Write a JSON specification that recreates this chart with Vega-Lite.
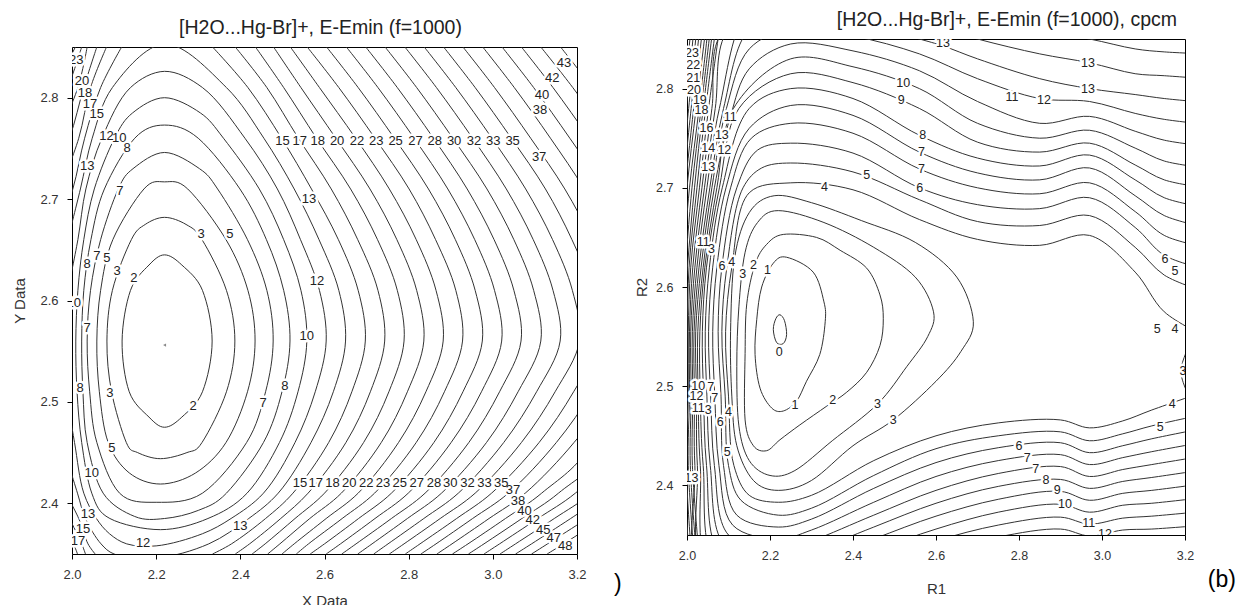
{
"$schema":"https://vega.github.io/schema/vega-lite/v6.json",
"padding":{"left":12,"top":9,"right":0,"bottom":0},
"background":"white",
"config":{"view":{"stroke":"#000","strokeWidth":1},"axis":{"grid":false,"domain":false,"tickColor":"#000","tickSize":5,"labelFont":"Liberation Sans","labelFontSize":13,"labelColor":"#333","titleFont":"Liberation Sans","titleFontSize":15,"titleFontWeight":"normal","titleColor":"#333","labelPadding":9,"labelFlush":false}},
"datasets":{
"lc":[
{"c":"C1","x":2.333,"y":2.56},{"c":"C1","x":2.31,"y":2.61},{"c":"C1","x":2.261,"y":2.635},{"c":"C1","x":2.22,"y":2.645},{"c":"C1","x":2.183,"y":2.635},{"c":"C1","x":2.139,"y":2.61},{"c":"C1","x":2.119,"y":2.56},{"c":"C1","x":2.136,"y":2.51},{"c":"C1","x":2.183,"y":2.485},{"c":"C1","x":2.22,"y":2.475},{"c":"C1","x":2.261,"y":2.485},{"c":"C1","x":2.31,"y":2.51},
{"c":"C2","x":2.387,"y":2.56},{"c":"C2","x":2.367,"y":2.61},{"c":"C2","x":2.309,"y":2.66},{"c":"C2","x":2.271,"y":2.675},{"c":"C2","x":2.22,"y":2.682},{"c":"C2","x":2.174,"y":2.675},{"c":"C2","x":2.141,"y":2.66},{"c":"C2","x":2.096,"y":2.61},{"c":"C2","x":2.083,"y":2.56},{"c":"C2","x":2.094,"y":2.51},{"c":"C2","x":2.129,"y":2.46},{"c":"C2","x":2.156,"y":2.45},{"c":"C2","x":2.21,"y":2.444},{"c":"C2","x":2.273,"y":2.45},{"c":"C2","x":2.309,"y":2.46},{"c":"C2","x":2.367,"y":2.51},
{"c":"C3","x":2.435,"y":2.56},{"c":"C3","x":2.418,"y":2.61},{"c":"C3","x":2.366,"y":2.66},{"c":"C3","x":2.275,"y":2.71},{"c":"C3","x":2.22,"y":2.717},{"c":"C3","x":2.171,"y":2.71},{"c":"C3","x":2.097,"y":2.66},{"c":"C3","x":2.068,"y":2.61},{"c":"C3","x":2.059,"y":2.56},{"c":"C3","x":2.065,"y":2.51},{"c":"C3","x":2.086,"y":2.46},{"c":"C3","x":2.136,"y":2.43},{"c":"C3","x":2.21,"y":2.419},{"c":"C3","x":2.294,"y":2.43},{"c":"C3","x":2.366,"y":2.46},{"c":"C3","x":2.417,"y":2.51},
{"c":"C4","x":2.478,"y":2.56},{"c":"C4","x":2.463,"y":2.61},{"c":"C4","x":2.417,"y":2.66},{"c":"C4","x":2.346,"y":2.71},{"c":"C4","x":2.303,"y":2.73},{"c":"C4","x":2.22,"y":2.746},{"c":"C4","x":2.145,"y":2.73},{"c":"C4","x":2.11,"y":2.71},{"c":"C4","x":2.068,"y":2.66},{"c":"C4","x":2.044,"y":2.61},{"c":"C4","x":2.036,"y":2.56},{"c":"C4","x":2.042,"y":2.51},{"c":"C4","x":2.059,"y":2.46},{"c":"C4","x":2.113,"y":2.41},{"c":"C4","x":2.2,"y":2.401},{"c":"C4","x":2.31,"y":2.41},{"c":"C4","x":2.415,"y":2.46},{"c":"C4","x":2.46,"y":2.51},
{"c":"C5","x":2.518,"y":2.56},{"c":"C5","x":2.503,"y":2.61},{"c":"C5","x":2.462,"y":2.66},{"c":"C5","x":2.399,"y":2.71},{"c":"C5","x":2.3,"y":2.76},{"c":"C5","x":2.22,"y":2.773},{"c":"C5","x":2.149,"y":2.76},{"c":"C5","x":2.077,"y":2.71},{"c":"C5","x":2.045,"y":2.66},{"c":"C5","x":2.028,"y":2.61},{"c":"C5","x":2.023,"y":2.56},{"c":"C5","x":2.026,"y":2.51},{"c":"C5","x":2.036,"y":2.46},{"c":"C5","x":2.074,"y":2.41},{"c":"C5","x":2.149,"y":2.387},{"c":"C5","x":2.22,"y":2.385},{"c":"C5","x":2.3,"y":2.393},{"c":"C5","x":2.367,"y":2.41},{"c":"C5","x":2.455,"y":2.46},{"c":"C5","x":2.499,"y":2.51},
{"c":"C6","x":2.558,"y":2.56},{"c":"C6","x":2.544,"y":2.61},{"c":"C6","x":2.503,"y":2.66},{"c":"C6","x":2.445,"y":2.71},{"c":"C6","x":2.36,"y":2.76},{"c":"C6","x":2.305,"y":2.785},{"c":"C6","x":2.22,"y":2.8},{"c":"C6","x":2.144,"y":2.785},{"c":"C6","x":2.101,"y":2.76},{"c":"C6","x":2.053,"y":2.71},{"c":"C6","x":2.028,"y":2.66},{"c":"C6","x":2.014,"y":2.61},{"c":"C6","x":2.009,"y":2.56},{"c":"C6","x":2.012,"y":2.51},{"c":"C6","x":2.023,"y":2.46},{"c":"C6","x":2.047,"y":2.41},{"c":"C6","x":2.09,"y":2.385},{"c":"C6","x":2.21,"y":2.374},{"c":"C6","x":2.323,"y":2.385},{"c":"C6","x":2.416,"y":2.41},{"c":"C6","x":2.493,"y":2.46},{"c":"C6","x":2.537,"y":2.51}
],
"lo":[
{"c":"O7","x":1.986,"y":2.51},{"c":"O7","x":2.006,"y":2.46},{"c":"O7","x":2.028,"y":2.41},{"c":"O7","x":2.058,"y":2.385},{"c":"O7","x":2.089,"y":2.37},{"c":"O7","x":2.13,"y":2.36},{"c":"O7","x":2.2,"y":2.358},{"c":"O7","x":2.31,"y":2.37},{"c":"O7","x":2.378,"y":2.385},{"c":"O7","x":2.455,"y":2.41},{"c":"O7","x":2.53,"y":2.46},{"c":"O7","x":2.578,"y":2.51},{"c":"O7","x":2.604,"y":2.56},{"c":"O7","x":2.588,"y":2.61},{"c":"O7","x":2.543,"y":2.66},{"c":"O7","x":2.488,"y":2.71},{"c":"O7","x":2.411,"y":2.76},{"c":"O7","x":2.31,"y":2.81},{"c":"O7","x":2.22,"y":2.826},{"c":"O7","x":2.139,"y":2.81},{"c":"O7","x":2.071,"y":2.76},{"c":"O7","x":2.033,"y":2.71},{"c":"O7","x":2.014,"y":2.66},{"c":"O7","x":1.99,"y":2.61},
{"c":"O8","x":1.976,"y":2.46},{"c":"O8","x":2.013,"y":2.41},{"c":"O8","x":2.032,"y":2.385},{"c":"O8","x":2.069,"y":2.36},{"c":"O8","x":2.1,"y":2.35},{"c":"O8","x":2.2,"y":2.346},{"c":"O8","x":2.325,"y":2.36},{"c":"O8","x":2.42,"y":2.385},{"c":"O8","x":2.49,"y":2.41},{"c":"O8","x":2.568,"y":2.46},{"c":"O8","x":2.621,"y":2.51},{"c":"O8","x":2.65,"y":2.56},{"c":"O8","x":2.634,"y":2.61},{"c":"O8","x":2.587,"y":2.66},{"c":"O8","x":2.528,"y":2.71},{"c":"O8","x":2.456,"y":2.76},{"c":"O8","x":2.367,"y":2.81},{"c":"O8","x":2.22,"y":2.853},{"c":"O8","x":2.096,"y":2.81},{"c":"O8","x":2.048,"y":2.76},{"c":"O8","x":2.02,"y":2.71},{"c":"O8","x":1.99,"y":2.66},
{"c":"R15","x":2.334,"y":2.35},{"c":"R15","x":2.379,"y":2.36},{"c":"R15","x":2.46,"y":2.385},{"c":"R15","x":2.525,"y":2.41},{"c":"R15","x":2.61,"y":2.46},{"c":"R15","x":2.665,"y":2.51},{"c":"R15","x":2.697,"y":2.56},{"c":"R15","x":2.68,"y":2.61},{"c":"R15","x":2.633,"y":2.66},{"c":"R15","x":2.569,"y":2.71},{"c":"R15","x":2.498,"y":2.76},{"c":"R15","x":2.418,"y":2.81},{"c":"R15","x":2.334,"y":2.85},
{"c":"R16","x":2.388,"y":2.35},{"c":"R16","x":2.422,"y":2.36},{"c":"R16","x":2.496,"y":2.385},{"c":"R16","x":2.561,"y":2.41},{"c":"R16","x":2.651,"y":2.46},{"c":"R16","x":2.709,"y":2.51},{"c":"R16","x":2.743,"y":2.56},{"c":"R16","x":2.727,"y":2.61},{"c":"R16","x":2.679,"y":2.66},{"c":"R16","x":2.616,"y":2.71},{"c":"R16","x":2.538,"y":2.76},{"c":"R16","x":2.463,"y":2.81},{"c":"R16","x":2.388,"y":2.85},
{"c":"R18","x":2.428,"y":2.35},{"c":"R18","x":2.459,"y":2.36},{"c":"R18","x":2.53,"y":2.385},{"c":"R18","x":2.6,"y":2.41},{"c":"R18","x":2.693,"y":2.46},{"c":"R18","x":2.753,"y":2.51},{"c":"R18","x":2.789,"y":2.56},{"c":"R18","x":2.773,"y":2.61},{"c":"R18","x":2.726,"y":2.66},{"c":"R18","x":2.662,"y":2.71},{"c":"R18","x":2.581,"y":2.76},{"c":"R18","x":2.503,"y":2.81},{"c":"R18","x":2.436,"y":2.85},
{"c":"R20","x":2.465,"y":2.35},{"c":"R20","x":2.494,"y":2.36},{"c":"R20","x":2.565,"y":2.385},{"c":"R20","x":2.64,"y":2.41},{"c":"R20","x":2.735,"y":2.46},{"c":"R20","x":2.797,"y":2.51},{"c":"R20","x":2.836,"y":2.56},{"c":"R20","x":2.819,"y":2.61},{"c":"R20","x":2.772,"y":2.66},{"c":"R20","x":2.708,"y":2.71},{"c":"R20","x":2.627,"y":2.76},{"c":"R20","x":2.544,"y":2.81},{"c":"R20","x":2.479,"y":2.85},
{"c":"R21","x":2.499,"y":2.35},{"c":"R21","x":2.528,"y":2.36},{"c":"R21","x":2.604,"y":2.385},{"c":"R21","x":2.68,"y":2.41},{"c":"R21","x":2.776,"y":2.46},{"c":"R21","x":2.841,"y":2.51},{"c":"R21","x":2.882,"y":2.56},{"c":"R21","x":2.865,"y":2.61},{"c":"R21","x":2.818,"y":2.66},{"c":"R21","x":2.754,"y":2.71},{"c":"R21","x":2.674,"y":2.76},{"c":"R21","x":2.588,"y":2.81},{"c":"R21","x":2.519,"y":2.85},
{"c":"R23","x":2.533,"y":2.35},{"c":"R23","x":2.562,"y":2.36},{"c":"R23","x":2.642,"y":2.385},{"c":"R23","x":2.719,"y":2.41},{"c":"R23","x":2.818,"y":2.46},{"c":"R23","x":2.885,"y":2.51},{"c":"R23","x":2.928,"y":2.56},{"c":"R23","x":2.912,"y":2.61},{"c":"R23","x":2.864,"y":2.66},{"c":"R23","x":2.801,"y":2.71},{"c":"R23","x":2.72,"y":2.76},{"c":"R23","x":2.634,"y":2.81},{"c":"R23","x":2.559,"y":2.85},
{"c":"R25","x":2.566,"y":2.35},{"c":"R25","x":2.6,"y":2.36},{"c":"R25","x":2.681,"y":2.385},{"c":"R25","x":2.759,"y":2.41},{"c":"R25","x":2.86,"y":2.46},{"c":"R25","x":2.929,"y":2.51},{"c":"R25","x":2.975,"y":2.56},{"c":"R25","x":2.958,"y":2.61},{"c":"R25","x":2.911,"y":2.66},{"c":"R25","x":2.847,"y":2.71},{"c":"R25","x":2.766,"y":2.76},{"c":"R25","x":2.68,"y":2.81},{"c":"R25","x":2.605,"y":2.85},
{"c":"R26","x":2.604,"y":2.35},{"c":"R26","x":2.638,"y":2.36},{"c":"R26","x":2.72,"y":2.385},{"c":"R26","x":2.799,"y":2.41},{"c":"R26","x":2.901,"y":2.46},{"c":"R26","x":2.973,"y":2.51},{"c":"R26","x":3.021,"y":2.56},{"c":"R26","x":3.004,"y":2.61},{"c":"R26","x":2.957,"y":2.66},{"c":"R26","x":2.893,"y":2.71},{"c":"R26","x":2.813,"y":2.76},{"c":"R26","x":2.727,"y":2.81},{"c":"R26","x":2.652,"y":2.85},
{"c":"R28","x":2.641,"y":2.35},{"c":"R28","x":2.675,"y":2.36},{"c":"R28","x":2.759,"y":2.385},{"c":"R28","x":2.839,"y":2.41},{"c":"R28","x":2.943,"y":2.46},{"c":"R28","x":3.016,"y":2.51},{"c":"R28","x":3.067,"y":2.56},{"c":"R28","x":3.05,"y":2.61},{"c":"R28","x":3.003,"y":2.66},{"c":"R28","x":2.939,"y":2.71},{"c":"R28","x":2.859,"y":2.76},{"c":"R28","x":2.773,"y":2.81},{"c":"R28","x":2.698,"y":2.85},
{"c":"R30","x":2.679,"y":2.35},{"c":"R30","x":2.713,"y":2.36},{"c":"R30","x":2.797,"y":2.385},{"c":"R30","x":2.878,"y":2.41},{"c":"R30","x":2.985,"y":2.46},{"c":"R30","x":3.06,"y":2.51},{"c":"R30","x":3.114,"y":2.56},{"c":"R30","x":3.097,"y":2.61},{"c":"R30","x":3.05,"y":2.66},{"c":"R30","x":2.986,"y":2.71},{"c":"R30","x":2.905,"y":2.76},{"c":"R30","x":2.819,"y":2.81},{"c":"R30","x":2.744,"y":2.85},
{"c":"R31","x":2.717,"y":2.35},{"c":"R31","x":2.751,"y":2.36},{"c":"R31","x":2.836,"y":2.385},{"c":"R31","x":2.918,"y":2.41},{"c":"R31","x":3.026,"y":2.46},{"c":"R31","x":3.104,"y":2.51},{"c":"R31","x":3.16,"y":2.56},{"c":"R31","x":3.143,"y":2.61},{"c":"R31","x":3.096,"y":2.66},{"c":"R31","x":3.032,"y":2.71},{"c":"R31","x":2.952,"y":2.76},{"c":"R31","x":2.866,"y":2.81},{"c":"R31","x":2.791,"y":2.85},
{"c":"R33","x":2.754,"y":2.35},{"c":"R33","x":2.789,"y":2.36},{"c":"R33","x":2.875,"y":2.385},{"c":"R33","x":2.958,"y":2.41},{"c":"R33","x":3.068,"y":2.46},{"c":"R33","x":3.148,"y":2.51},{"c":"R33","x":3.206,"y":2.56},{"c":"R33","x":3.189,"y":2.61},{"c":"R33","x":3.142,"y":2.66},{"c":"R33","x":3.078,"y":2.71},{"c":"R33","x":2.998,"y":2.76},{"c":"R33","x":2.912,"y":2.81},{"c":"R33","x":2.837,"y":2.85},
{"c":"R35","x":2.792,"y":2.35},{"c":"R35","x":2.827,"y":2.36},{"c":"R35","x":2.914,"y":2.385},{"c":"R35","x":2.997,"y":2.41},{"c":"R35","x":3.11,"y":2.46},{"c":"R35","x":3.192,"y":2.51},{"c":"R35","x":3.252,"y":2.56},{"c":"R35","x":3.236,"y":2.61},{"c":"R35","x":3.188,"y":2.66},{"c":"R35","x":3.125,"y":2.71},{"c":"R35","x":3.044,"y":2.76},{"c":"R35","x":2.958,"y":2.81},{"c":"R35","x":2.883,"y":2.85},
{"c":"R36","x":2.829,"y":2.35},{"c":"R36","x":2.865,"y":2.36},{"c":"R36","x":2.952,"y":2.385},{"c":"R36","x":3.037,"y":2.41},{"c":"R36","x":3.151,"y":2.46},{"c":"R36","x":3.236,"y":2.51},{"c":"R36","x":3.299,"y":2.56},{"c":"R36","x":3.282,"y":2.61},{"c":"R36","x":3.235,"y":2.66},{"c":"R36","x":3.171,"y":2.71},{"c":"R36","x":3.09,"y":2.76},{"c":"R36","x":3.004,"y":2.81},{"c":"R36","x":2.929,"y":2.85},
{"c":"R38","x":2.867,"y":2.35},{"c":"R38","x":2.903,"y":2.36},{"c":"R38","x":2.991,"y":2.385},{"c":"R38","x":3.077,"y":2.41},{"c":"R38","x":3.193,"y":2.46},{"c":"R38","x":3.279,"y":2.51},{"c":"R38","x":3.328,"y":2.61},{"c":"R38","x":3.281,"y":2.66},{"c":"R38","x":3.217,"y":2.71},{"c":"R38","x":3.137,"y":2.76},{"c":"R38","x":3.051,"y":2.81},{"c":"R38","x":2.976,"y":2.85},
{"c":"R40","x":2.904,"y":2.35},{"c":"R40","x":2.941,"y":2.36},{"c":"R40","x":3.03,"y":2.385},{"c":"R40","x":3.116,"y":2.41},{"c":"R40","x":3.235,"y":2.46},{"c":"R40","x":3.327,"y":2.66},{"c":"R40","x":3.264,"y":2.71},{"c":"R40","x":3.183,"y":2.76},{"c":"R40","x":3.097,"y":2.81},{"c":"R40","x":3.022,"y":2.85},
{"c":"R41","x":2.942,"y":2.35},{"c":"R41","x":2.979,"y":2.36},{"c":"R41","x":3.069,"y":2.385},{"c":"R41","x":3.156,"y":2.41},{"c":"R41","x":3.276,"y":2.46},{"c":"R41","x":3.31,"y":2.71},{"c":"R41","x":3.229,"y":2.76},{"c":"R41","x":3.143,"y":2.81},{"c":"R41","x":3.068,"y":2.85},
{"c":"R43","x":2.979,"y":2.35},{"c":"R43","x":3.016,"y":2.36},{"c":"R43","x":3.107,"y":2.385},{"c":"R43","x":3.196,"y":2.41},{"c":"R43","x":3.318,"y":2.46},{"c":"R43","x":3.356,"y":2.71},{"c":"R43","x":3.276,"y":2.76},{"c":"R43","x":3.19,"y":2.81},{"c":"R43","x":3.114,"y":2.85},
{"c":"R45","x":3.017,"y":2.35},{"c":"R45","x":3.054,"y":2.36},{"c":"R45","x":3.146,"y":2.385},{"c":"R45","x":3.235,"y":2.41},{"c":"R45","x":3.36,"y":2.46},{"c":"R45","x":3.322,"y":2.76},{"c":"R45","x":3.236,"y":2.81},{"c":"R45","x":3.161,"y":2.85},
{"c":"R46","x":3.054,"y":2.35},{"c":"R46","x":3.092,"y":2.36},{"c":"R46","x":3.185,"y":2.385},{"c":"R46","x":3.275,"y":2.41},
{"c":"R48","x":3.092,"y":2.35},{"c":"R48","x":3.13,"y":2.36},{"c":"R48","x":3.224,"y":2.385},{"c":"R48","x":3.315,"y":2.41},
{"c":"R50","x":3.129,"y":2.35},{"c":"R50","x":3.168,"y":2.36},{"c":"R50","x":3.262,"y":2.385},
{"c":"TL15","x":1.96,"y":2.66},{"c":"TL15","x":2.002,"y":2.71},{"c":"TL15","x":2.03,"y":2.76},{"c":"TL15","x":2.068,"y":2.81},{"c":"TL15","x":2.118,"y":2.85},
{"c":"TL16","x":1.972,"y":2.71},{"c":"TL16","x":2.016,"y":2.76},{"c":"TL16","x":2.044,"y":2.81},{"c":"TL16","x":2.082,"y":2.85},
{"c":"TL18","x":1.942,"y":2.71},{"c":"TL18","x":1.994,"y":2.76},{"c":"TL18","x":2.028,"y":2.81},{"c":"TL18","x":2.059,"y":2.85},
{"c":"TL20","x":1.964,"y":2.76},{"c":"TL20","x":2.014,"y":2.81},{"c":"TL20","x":2.036,"y":2.85},
{"c":"TL21","x":1.934,"y":2.76},{"c":"TL21","x":1.99,"y":2.81},{"c":"TL21","x":2.023,"y":2.85},
{"c":"TL23","x":1.96,"y":2.81},{"c":"TL23","x":2.008,"y":2.85},
{"c":"BL15","x":1.985,"y":2.41},{"c":"BL15","x":2.016,"y":2.385},{"c":"BL15","x":2.038,"y":2.36},{"c":"BL15","x":2.055,"y":2.35},
{"c":"BL16","x":1.975,"y":2.4},{"c":"BL16","x":1.994,"y":2.385},{"c":"BL16","x":2.023,"y":2.36},{"c":"BL16","x":2.032,"y":2.35},
{"c":"BL18","x":1.96,"y":2.385},{"c":"BL18","x":2.003,"y":2.36},{"c":"BL18","x":2.013,"y":2.35}
],
"ll":[
{"t":"23","x":2.01,"y":2.837},{"t":"20","x":2.024,"y":2.816},{"t":"18","x":2.031,"y":2.805},{"t":"17","x":2.043,"y":2.794},{"t":"15","x":2.059,"y":2.784},
{"t":"13","x":2.036,"y":2.733},{"t":"12","x":2.082,"y":2.762},{"t":"10","x":2.112,"y":2.76},{"t":"8","x":2.131,"y":2.75},{"t":"7","x":2.114,"y":2.708},
{"t":"8","x":2.036,"y":2.636},{"t":"7","x":2.059,"y":2.644},{"t":"5","x":2.083,"y":2.642},{"t":"3","x":2.107,"y":2.629},{"t":"2","x":2.147,"y":2.622},
{"t":"10","x":2.004,"y":2.598},{"t":"7","x":2.036,"y":2.573},{"t":"8","x":2.019,"y":2.514},{"t":"3","x":2.09,"y":2.509},{"t":"5","x":2.095,"y":2.455},{"t":"10","x":2.047,"y":2.43},{"t":"13","x":2.038,"y":2.389},{"t":"15","x":2.026,"y":2.375},{"t":"17","x":2.014,"y":2.363},{"t":"12","x":2.169,"y":2.361},{"t":"13","x":2.4,"y":2.378},
{"t":"2","x":2.288,"y":2.496},{"t":"3","x":2.307,"y":2.666},{"t":"5","x":2.375,"y":2.666},{"t":"7","x":2.454,"y":2.499},{"t":"8","x":2.506,"y":2.516},{"t":"10","x":2.558,"y":2.565},{"t":"12","x":2.582,"y":2.619},{"t":"13","x":2.563,"y":2.7},
{"t":"15","x":2.5,"y":2.757},{"t":"17","x":2.541,"y":2.757},{"t":"18","x":2.584,"y":2.757},{"t":"20","x":2.63,"y":2.757},{"t":"22","x":2.677,"y":2.757},{"t":"23","x":2.723,"y":2.757},{"t":"25","x":2.769,"y":2.757},{"t":"27","x":2.816,"y":2.757},{"t":"28","x":2.862,"y":2.757},{"t":"30","x":2.908,"y":2.757},{"t":"32","x":2.955,"y":2.757},{"t":"33","x":3.001,"y":2.757},{"t":"35","x":3.047,"y":2.757},
{"t":"15","x":2.542,"y":2.42},{"t":"17","x":2.579,"y":2.42},{"t":"18","x":2.619,"y":2.42},{"t":"20","x":2.659,"y":2.42},{"t":"22","x":2.699,"y":2.42},{"t":"23","x":2.739,"y":2.42},{"t":"25","x":2.779,"y":2.42},{"t":"27","x":2.819,"y":2.42},{"t":"28","x":2.86,"y":2.42},{"t":"30","x":2.899,"y":2.42},{"t":"32","x":2.94,"y":2.42},{"t":"33","x":2.98,"y":2.42},{"t":"35","x":3.02,"y":2.42},
{"t":"37","x":3.048,"y":2.413},{"t":"38","x":3.06,"y":2.402},{"t":"40","x":3.075,"y":2.392},{"t":"42","x":3.095,"y":2.384},{"t":"45","x":3.12,"y":2.374},{"t":"47","x":3.145,"y":2.366},{"t":"48","x":3.172,"y":2.358},
{"t":"43","x":3.169,"y":2.834},{"t":"42","x":3.141,"y":2.819},{"t":"40","x":3.117,"y":2.803},{"t":"38","x":3.112,"y":2.788},{"t":"37","x":3.11,"y":2.742}
],
"rc":[
{"c":"Q0","x":2.208,"y":2.557},{"c":"Q0","x":2.214,"y":2.568},{"c":"Q0","x":2.224,"y":2.572},{"c":"Q0","x":2.235,"y":2.566},{"c":"Q0","x":2.24,"y":2.552},{"c":"Q0","x":2.232,"y":2.543},{"c":"Q0","x":2.216,"y":2.544},
{"c":"Q1","x":2.333,"y":2.565},{"c":"Q1","x":2.33,"y":2.585},{"c":"Q1","x":2.304,"y":2.615},{"c":"Q1","x":2.24,"y":2.63},{"c":"Q1","x":2.208,"y":2.624},{"c":"Q1","x":2.18,"y":2.6},{"c":"Q1","x":2.168,"y":2.567},{"c":"Q1","x":2.164,"y":2.532},{"c":"Q1","x":2.176,"y":2.498},{"c":"Q1","x":2.204,"y":2.478},{"c":"Q1","x":2.232,"y":2.475},{"c":"Q1","x":2.264,"y":2.485},{"c":"Q1","x":2.288,"y":2.505},{"c":"Q1","x":2.32,"y":2.532},
{"c":"Q2","x":2.473,"y":2.568},{"c":"Q2","x":2.465,"y":2.592},{"c":"Q2","x":2.433,"y":2.619},{"c":"Q2","x":2.369,"y":2.637},{"c":"Q2","x":2.312,"y":2.65},{"c":"Q2","x":2.232,"y":2.653},{"c":"Q2","x":2.192,"y":2.643},{"c":"Q2","x":2.164,"y":2.623},{"c":"Q2","x":2.144,"y":2.583},{"c":"Q2","x":2.14,"y":2.533},{"c":"Q2","x":2.14,"y":2.466},{"c":"Q2","x":2.16,"y":2.44},{"c":"Q2","x":2.192,"y":2.435},{"c":"Q2","x":2.224,"y":2.446},{"c":"Q2","x":2.272,"y":2.461},{"c":"Q2","x":2.337,"y":2.48},{"c":"Q2","x":2.385,"y":2.494},{"c":"Q2","x":2.433,"y":2.514},{"c":"Q2","x":2.465,"y":2.541},
{"c":"Q3","x":2.594,"y":2.575},{"c":"Q3","x":2.55,"y":2.61},{"c":"Q3","x":2.45,"y":2.64},{"c":"Q3","x":2.33,"y":2.665},{"c":"Q3","x":2.22,"y":2.677},{"c":"Q3","x":2.17,"y":2.665},{"c":"Q3","x":2.14,"y":2.635},{"c":"Q3","x":2.125,"y":2.58},{"c":"Q3","x":2.12,"y":2.52},{"c":"Q3","x":2.125,"y":2.46},{"c":"Q3","x":2.15,"y":2.425},{"c":"Q3","x":2.2,"y":2.41},{"c":"Q3","x":2.26,"y":2.415},{"c":"Q3","x":2.35,"y":2.445},{"c":"Q3","x":2.459,"y":2.482},{"c":"Q3","x":2.53,"y":2.52},{"c":"Q3","x":2.58,"y":2.55},
{"c":"Q4","x":2.69,"y":2.565},{"c":"Q4","x":2.65,"y":2.61},{"c":"Q4","x":2.55,"y":2.645},{"c":"Q4","x":2.42,"y":2.667},{"c":"Q4","x":2.3,"y":2.685},{"c":"Q4","x":2.21,"y":2.692},{"c":"Q4","x":2.15,"y":2.675},{"c":"Q4","x":2.115,"y":2.63},{"c":"Q4","x":2.105,"y":2.555},{"c":"Q4","x":2.108,"y":2.49},{"c":"Q4","x":2.12,"y":2.44},{"c":"Q4","x":2.16,"y":2.405},{"c":"Q4","x":2.22,"y":2.395},{"c":"Q4","x":2.3,"y":2.405},{"c":"Q4","x":2.4,"y":2.44},{"c":"Q4","x":2.497,"y":2.466},{"c":"Q4","x":2.6,"y":2.505},{"c":"Q4","x":2.66,"y":2.535}
],
"ro":[
{"c":"E3","x":3.215,"y":2.545},{"c":"E3","x":3.19,"y":2.515},{"c":"E3","x":3.215,"y":2.485},
{"c":"K5","x":3.25,"y":2.55},{"c":"K5","x":3.15,"y":2.575},{"c":"K5","x":3.08,"y":2.615},{"c":"K5","x":2.97,"y":2.652},{"c":"K5","x":2.85,"y":2.642},{"c":"K5","x":2.7,"y":2.648},{"c":"K5","x":2.56,"y":2.668},{"c":"K5","x":2.4,"y":2.698},{"c":"K5","x":2.25,"y":2.705},{"c":"K5","x":2.15,"y":2.695},{"c":"K5","x":2.108,"y":2.62},{"c":"K5","x":2.093,"y":2.555},{"c":"K5","x":2.1,"y":2.49},{"c":"K5","x":2.113,"y":2.42},{"c":"K5","x":2.15,"y":2.39},{"c":"K5","x":2.22,"y":2.383},{"c":"K5","x":2.3,"y":2.39},{"c":"K5","x":2.45,"y":2.425},{"c":"K5","x":2.6,"y":2.45},{"c":"K5","x":2.75,"y":2.463},{"c":"K5","x":2.9,"y":2.466},{"c":"K5","x":2.97,"y":2.458},{"c":"K5","x":3.05,"y":2.465},{"c":"K5","x":3.12,"y":2.476},{"c":"K5","x":3.25,"y":2.495},
{"c":"K6","x":3.25,"y":2.595},{"c":"K6","x":3.15,"y":2.612},{"c":"K6","x":3.08,"y":2.64},{"c":"K6","x":2.97,"y":2.672},{"c":"K6","x":2.85,"y":2.662},{"c":"K6","x":2.7,"y":2.666},{"c":"K6","x":2.56,"y":2.688},{"c":"K6","x":2.4,"y":2.716},{"c":"K6","x":2.25,"y":2.725},{"c":"K6","x":2.18,"y":2.72},{"c":"K6","x":2.135,"y":2.7},{"c":"K6","x":2.096,"y":2.62},{"c":"K6","x":2.084,"y":2.555},{"c":"K6","x":2.092,"y":2.49},{"c":"K6","x":2.1,"y":2.42},{"c":"K6","x":2.13,"y":2.385},{"c":"K6","x":2.22,"y":2.37},{"c":"K6","x":2.3,"y":2.377},{"c":"K6","x":2.45,"y":2.41},{"c":"K6","x":2.6,"y":2.437},{"c":"K6","x":2.75,"y":2.45},{"c":"K6","x":2.9,"y":2.454},{"c":"K6","x":2.97,"y":2.445},{"c":"K6","x":3.05,"y":2.452},{"c":"K6","x":3.12,"y":2.46},{"c":"K6","x":3.25,"y":2.472},
{"c":"K7","x":3.25,"y":2.618},{"c":"K7","x":3.15,"y":2.632},{"c":"K7","x":3.08,"y":2.66},{"c":"K7","x":2.97,"y":2.69},{"c":"K7","x":2.85,"y":2.679},{"c":"K7","x":2.7,"y":2.683},{"c":"K7","x":2.56,"y":2.7},{"c":"K7","x":2.4,"y":2.735},{"c":"K7","x":2.25,"y":2.745},{"c":"K7","x":2.17,"y":2.738},{"c":"K7","x":2.12,"y":2.7},{"c":"K7","x":2.084,"y":2.62},{"c":"K7","x":2.075,"y":2.555},{"c":"K7","x":2.082,"y":2.49},{"c":"K7","x":2.088,"y":2.42},{"c":"K7","x":2.12,"y":2.37},{"c":"K7","x":2.22,"y":2.358},{"c":"K7","x":2.3,"y":2.366},{"c":"K7","x":2.45,"y":2.397},{"c":"K7","x":2.6,"y":2.423},{"c":"K7","x":2.75,"y":2.438},{"c":"K7","x":2.9,"y":2.443},{"c":"K7","x":2.97,"y":2.433},{"c":"K7","x":3.05,"y":2.44},{"c":"K7","x":3.12,"y":2.447},{"c":"K7","x":3.25,"y":2.458},
{"c":"K8","x":3.25,"y":2.64},{"c":"K8","x":3.15,"y":2.652},{"c":"K8","x":3.08,"y":2.676},{"c":"K8","x":2.97,"y":2.705},{"c":"K8","x":2.85,"y":2.694},{"c":"K8","x":2.7,"y":2.7},{"c":"K8","x":2.56,"y":2.719},{"c":"K8","x":2.4,"y":2.755},{"c":"K8","x":2.25,"y":2.765},{"c":"K8","x":2.155,"y":2.75},{"c":"K8","x":2.105,"y":2.7},{"c":"K8","x":2.072,"y":2.62},{"c":"K8","x":2.062,"y":2.555},{"c":"K8","x":2.067,"y":2.49},{"c":"K8","x":2.077,"y":2.42},{"c":"K8","x":2.11,"y":2.36},{"c":"K8","x":2.22,"y":2.346},{"c":"K8","x":2.3,"y":2.355},{"c":"K8","x":2.45,"y":2.383},{"c":"K8","x":2.6,"y":2.409},{"c":"K8","x":2.75,"y":2.425},{"c":"K8","x":2.9,"y":2.431},{"c":"K8","x":2.97,"y":2.421},{"c":"K8","x":3.05,"y":2.428},{"c":"K8","x":3.12,"y":2.434},{"c":"K8","x":3.25,"y":2.444},
{"c":"K9","x":3.25,"y":2.66},{"c":"K9","x":3.15,"y":2.672},{"c":"K9","x":3.08,"y":2.692},{"c":"K9","x":2.97,"y":2.72},{"c":"K9","x":2.85,"y":2.708},{"c":"K9","x":2.7,"y":2.715},{"c":"K9","x":2.56,"y":2.736},{"c":"K9","x":2.4,"y":2.773},{"c":"K9","x":2.25,"y":2.783},{"c":"K9","x":2.15,"y":2.76},{"c":"K9","x":2.094,"y":2.7},{"c":"K9","x":2.062,"y":2.62},{"c":"K9","x":2.052,"y":2.555},{"c":"K9","x":2.057,"y":2.49},{"c":"K9","x":2.066,"y":2.42},{"c":"K9","x":2.1,"y":2.35},{"c":"K9","x":2.22,"y":2.334},{"c":"K9","x":2.3,"y":2.344},{"c":"K9","x":2.45,"y":2.37},{"c":"K9","x":2.6,"y":2.395},{"c":"K9","x":2.75,"y":2.412},{"c":"K9","x":2.9,"y":2.419},{"c":"K9","x":2.97,"y":2.409},{"c":"K9","x":3.05,"y":2.416},{"c":"K9","x":3.12,"y":2.421},{"c":"K9","x":3.25,"y":2.43},
{"c":"K10","x":3.25,"y":2.68},{"c":"K10","x":3.15,"y":2.69},{"c":"K10","x":3.08,"y":2.708},{"c":"K10","x":2.97,"y":2.733},{"c":"K10","x":2.85,"y":2.722},{"c":"K10","x":2.7,"y":2.73},{"c":"K10","x":2.56,"y":2.753},{"c":"K10","x":2.4,"y":2.79},{"c":"K10","x":2.25,"y":2.8},{"c":"K10","x":2.15,"y":2.78},{"c":"K10","x":2.085,"y":2.7},{"c":"K10","x":2.054,"y":2.62},{"c":"K10","x":2.044,"y":2.555},{"c":"K10","x":2.048,"y":2.49},{"c":"K10","x":2.056,"y":2.42},{"c":"K10","x":2.09,"y":2.34},{"c":"K10","x":2.22,"y":2.322},{"c":"K10","x":2.3,"y":2.333},{"c":"K10","x":2.45,"y":2.358},{"c":"K10","x":2.6,"y":2.382},{"c":"K10","x":2.75,"y":2.399},{"c":"K10","x":2.9,"y":2.406},{"c":"K10","x":2.97,"y":2.397},{"c":"K10","x":3.05,"y":2.404},{"c":"K10","x":3.12,"y":2.408},{"c":"K10","x":3.25,"y":2.416},
{"c":"K11","x":3.25,"y":2.7},{"c":"K11","x":3.15,"y":2.708},{"c":"K11","x":3.08,"y":2.723},{"c":"K11","x":2.97,"y":2.745},{"c":"K11","x":2.85,"y":2.736},{"c":"K11","x":2.7,"y":2.746},{"c":"K11","x":2.56,"y":2.78},{"c":"K11","x":2.4,"y":2.806},{"c":"K11","x":2.25,"y":2.815},{"c":"K11","x":2.125,"y":2.78},{"c":"K11","x":2.078,"y":2.7},{"c":"K11","x":2.047,"y":2.62},{"c":"K11","x":2.037,"y":2.555},{"c":"K11","x":2.04,"y":2.49},{"c":"K11","x":2.047,"y":2.42},{"c":"K11","x":2.08,"y":2.33},{"c":"K11","x":2.22,"y":2.31},{"c":"K11","x":2.3,"y":2.322},{"c":"K11","x":2.45,"y":2.346},{"c":"K11","x":2.6,"y":2.369},{"c":"K11","x":2.75,"y":2.386},{"c":"K11","x":2.9,"y":2.394},{"c":"K11","x":2.97,"y":2.385},{"c":"K11","x":3.05,"y":2.392},{"c":"K11","x":3.12,"y":2.395},{"c":"K11","x":3.25,"y":2.402},
{"c":"K12","x":3.25,"y":2.72},{"c":"K12","x":3.15,"y":2.727},{"c":"K12","x":3.08,"y":2.74},{"c":"K12","x":2.97,"y":2.758},{"c":"K12","x":2.85,"y":2.75},{"c":"K12","x":2.7,"y":2.765},{"c":"K12","x":2.56,"y":2.8},{"c":"K12","x":2.4,"y":2.822},{"c":"K12","x":2.25,"y":2.83},{"c":"K12","x":2.112,"y":2.78},{"c":"K12","x":2.072,"y":2.7},{"c":"K12","x":2.043,"y":2.62},{"c":"K12","x":2.031,"y":2.555},{"c":"K12","x":2.032,"y":2.49},{"c":"K12","x":2.039,"y":2.42},{"c":"K12","x":2.07,"y":2.32},{"c":"K12","x":2.22,"y":2.298},{"c":"K12","x":2.3,"y":2.31},{"c":"K12","x":2.45,"y":2.334},{"c":"K12","x":2.6,"y":2.356},{"c":"K12","x":2.75,"y":2.373},{"c":"K12","x":2.9,"y":2.381},{"c":"K12","x":2.97,"y":2.373},{"c":"K12","x":3.05,"y":2.38},{"c":"K12","x":3.12,"y":2.382},{"c":"K12","x":3.25,"y":2.388},
{"c":"K13","x":3.25,"y":2.742},{"c":"K13","x":3.15,"y":2.748},{"c":"K13","x":3.08,"y":2.757},{"c":"K13","x":2.97,"y":2.772},{"c":"K13","x":2.85,"y":2.765},{"c":"K13","x":2.7,"y":2.787},{"c":"K13","x":2.56,"y":2.818},{"c":"K13","x":2.4,"y":2.838},{"c":"K13","x":2.25,"y":2.845},{"c":"K13","x":2.15,"y":2.82},{"c":"K13","x":2.104,"y":2.771},{"c":"K13","x":2.066,"y":2.7},{"c":"K13","x":2.039,"y":2.62},{"c":"K13","x":2.026,"y":2.555},{"c":"K13","x":2.027,"y":2.49},{"c":"K13","x":2.032,"y":2.42},{"c":"K13","x":2.062,"y":2.31},{"c":"K13","x":2.3,"y":2.3},{"c":"K13","x":2.45,"y":2.322},{"c":"K13","x":2.6,"y":2.344},{"c":"K13","x":2.75,"y":2.36},{"c":"K13","x":2.9,"y":2.368},{"c":"K13","x":2.97,"y":2.361},{"c":"K13","x":3.05,"y":2.367},{"c":"K13","x":3.12,"y":2.369},{"c":"K13","x":3.25,"y":2.374},
{"c":"K14","x":3.25,"y":2.764},{"c":"K14","x":3.15,"y":2.769},{"c":"K14","x":3.08,"y":2.775},{"c":"K14","x":2.97,"y":2.787},{"c":"K14","x":2.85,"y":2.79},{"c":"K14","x":2.7,"y":2.81},{"c":"K14","x":2.56,"y":2.835},{"c":"K14","x":2.4,"y":2.853},{"c":"K14","x":2.25,"y":2.86},{"c":"K14","x":2.15,"y":2.84},{"c":"K14","x":2.095,"y":2.78},{"c":"K14","x":2.06,"y":2.7},{"c":"K14","x":2.034,"y":2.62},{"c":"K14","x":2.021,"y":2.555},{"c":"K14","x":2.023,"y":2.49},{"c":"K14","x":2.025,"y":2.42},{"c":"K14","x":2.055,"y":2.3},{"c":"K14","x":2.45,"y":2.3},{"c":"K14","x":2.6,"y":2.332},{"c":"K14","x":2.75,"y":2.348},{"c":"K14","x":2.9,"y":2.356},{"c":"K14","x":2.97,"y":2.349},{"c":"K14","x":3.05,"y":2.355},{"c":"K14","x":3.12,"y":2.356},{"c":"K14","x":3.25,"y":2.36},
{"c":"K15","x":3.25,"y":2.786},{"c":"K15","x":3.15,"y":2.79},{"c":"K15","x":3.08,"y":2.794},{"c":"K15","x":2.97,"y":2.8},{"c":"K15","x":2.85,"y":2.81},{"c":"K15","x":2.7,"y":2.83},{"c":"K15","x":2.617,"y":2.843},{"c":"K15","x":2.56,"y":2.85},{"c":"K15","x":2.4,"y":2.868},{"c":"K15","x":2.25,"y":2.875},{"c":"K15","x":2.15,"y":2.86},{"c":"K15","x":2.088,"y":2.78},{"c":"K15","x":2.055,"y":2.7},{"c":"K15","x":2.029,"y":2.62},{"c":"K15","x":2.017,"y":2.555},{"c":"K15","x":2.018,"y":2.49},{"c":"K15","x":2.019,"y":2.42},{"c":"K15","x":2.048,"y":2.29},{"c":"K15","x":2.6,"y":2.29},{"c":"K15","x":2.75,"y":2.336},{"c":"K15","x":2.9,"y":2.344},{"c":"K15","x":2.97,"y":2.337},{"c":"K15","x":3.05,"y":2.343},{"c":"K15","x":3.12,"y":2.343},{"c":"K15","x":3.25,"y":2.346},
{"c":"K16","x":3.25,"y":2.81},{"c":"K16","x":3.15,"y":2.813},{"c":"K16","x":3.08,"y":2.815},{"c":"K16","x":2.97,"y":2.826},{"c":"K16","x":2.85,"y":2.835},{"c":"K16","x":2.7,"y":2.85},{"c":"K16","x":2.56,"y":2.867},{"c":"K16","x":2.4,"y":2.884},{"c":"K16","x":2.25,"y":2.89},{"c":"K16","x":2.15,"y":2.88},{"c":"K16","x":2.078,"y":2.78},{"c":"K16","x":2.048,"y":2.7},{"c":"K16","x":2.024,"y":2.62},{"c":"K16","x":2.013,"y":2.555},{"c":"K16","x":2.014,"y":2.49},{"c":"K16","x":2.013,"y":2.42},{"c":"K16","x":2.04,"y":2.28},
{"c":"K17","x":3.25,"y":2.835},{"c":"K17","x":3.15,"y":2.837},{"c":"K17","x":3.08,"y":2.84},{"c":"K17","x":2.97,"y":2.85},{"c":"K17","x":2.85,"y":2.858},{"c":"K17","x":2.7,"y":2.87},{"c":"K17","x":2.56,"y":2.885},{"c":"K17","x":2.3,"y":2.9},{"c":"K17","x":2.1,"y":2.86},{"c":"K17","x":2.068,"y":2.78},{"c":"K17","x":2.042,"y":2.7},{"c":"K17","x":2.019,"y":2.62},{"c":"K17","x":2.009,"y":2.555},{"c":"K17","x":2.01,"y":2.49},{"c":"K17","x":2.008,"y":2.42},{"c":"K17","x":2.033,"y":2.28},
{"c":"K18","x":3.25,"y":2.86},{"c":"K18","x":3.15,"y":2.862},{"c":"K18","x":3.08,"y":2.865},{"c":"K18","x":2.97,"y":2.875},{"c":"K18","x":2.85,"y":2.88},{"c":"K18","x":2.5,"y":2.92},{"c":"K18","x":2.09,"y":2.86},{"c":"K18","x":2.06,"y":2.78},{"c":"K18","x":2.036,"y":2.7},{"c":"K18","x":2.014,"y":2.62},{"c":"K18","x":2.006,"y":2.555},{"c":"K18","x":2.006,"y":2.49},{"c":"K18","x":2.003,"y":2.42},{"c":"K18","x":2.027,"y":2.28},
{"c":"K19","x":2.085,"y":2.88},{"c":"K19","x":2.052,"y":2.78},{"c":"K19","x":2.03,"y":2.7},{"c":"K19","x":2.009,"y":2.62},{"c":"K19","x":2.003,"y":2.555},{"c":"K19","x":2.003,"y":2.49},{"c":"K19","x":1.998,"y":2.42},{"c":"K19","x":2.02,"y":2.28},
{"c":"K20","x":2.075,"y":2.88},{"c":"K20","x":2.045,"y":2.78},{"c":"K20","x":2.024,"y":2.7},{"c":"K20","x":2.005,"y":2.62},{"c":"K20","x":2.0,"y":2.555},{"c":"K20","x":1.998,"y":2.49},{"c":"K20","x":1.993,"y":2.42},{"c":"K20","x":2.014,"y":2.28},
{"c":"K21","x":2.068,"y":2.88},{"c":"K21","x":2.039,"y":2.78},{"c":"K21","x":2.018,"y":2.7},{"c":"K21","x":2.001,"y":2.62},{"c":"K21","x":1.99,"y":2.555},
{"c":"K22","x":2.062,"y":2.88},{"c":"K22","x":2.034,"y":2.78},{"c":"K22","x":2.012,"y":2.7},{"c":"K22","x":1.996,"y":2.62},
{"c":"K23","x":2.056,"y":2.88},{"c":"K23","x":2.029,"y":2.78},{"c":"K23","x":2.006,"y":2.7},{"c":"K23","x":1.99,"y":2.62},
{"c":"K24","x":2.048,"y":2.87},{"c":"K24","x":2.022,"y":2.78},{"c":"K24","x":2.0,"y":2.7},{"c":"K24","x":1.985,"y":2.62},
{"c":"K25","x":2.04,"y":2.87},{"c":"K25","x":2.016,"y":2.78},{"c":"K25","x":1.995,"y":2.7},
{"c":"K26","x":2.033,"y":2.87},{"c":"K26","x":2.01,"y":2.78},{"c":"K26","x":1.99,"y":2.7},
{"c":"K27","x":2.026,"y":2.87},{"c":"K27","x":2.004,"y":2.78},{"c":"K27","x":1.985,"y":2.7},
{"c":"K28","x":2.019,"y":2.87},{"c":"K28","x":1.998,"y":2.78},
{"c":"K29","x":2.012,"y":2.87},{"c":"K29","x":1.99,"y":2.78}
],
"rl":[
{"t":"0","x":2.222,"y":2.534},{"t":"1","x":2.194,"y":2.617},{"t":"1","x":2.26,"y":2.481},{"t":"2","x":2.16,"y":2.622},{"t":"2","x":2.351,"y":2.486},{"t":"3","x":2.459,"y":2.482},{"t":"3","x":2.497,"y":2.466},{"t":"3","x":2.134,"y":2.613},{"t":"4","x":2.108,"y":2.625},{"t":"6","x":2.084,"y":2.621},{"t":"11","x":2.039,"y":2.645},{"t":"3","x":2.059,"y":2.638},
{"t":"16","x":2.047,"y":2.76},{"t":"13","x":2.084,"y":2.753},{"t":"14","x":2.051,"y":2.74},{"t":"12","x":2.09,"y":2.738},{"t":"13","x":2.051,"y":2.721},
{"t":"23","x":2.012,"y":2.836},{"t":"22","x":2.015,"y":2.824},{"t":"21","x":2.015,"y":2.811},{"t":"20","x":2.017,"y":2.799},{"t":"19","x":2.031,"y":2.789},{"t":"18","x":2.035,"y":2.778},{"t":"11","x":2.104,"y":2.771},
{"t":"10","x":2.027,"y":2.5},{"t":"7","x":2.057,"y":2.499},{"t":"12","x":2.023,"y":2.49},{"t":"7","x":2.067,"y":2.488},{"t":"11","x":2.027,"y":2.478},{"t":"3","x":2.051,"y":2.476},{"t":"4","x":2.1,"y":2.474},{"t":"6","x":2.08,"y":2.464},{"t":"5","x":2.097,"y":2.434},{"t":"13","x":2.011,"y":2.407},
{"t":"4","x":2.331,"y":2.701},{"t":"5","x":2.433,"y":2.713},{"t":"6","x":2.561,"y":2.7},{"t":"7","x":2.565,"y":2.719},{"t":"7","x":2.565,"y":2.736},{"t":"8","x":2.568,"y":2.753},{"t":"9","x":2.516,"y":2.789},{"t":"10","x":2.521,"y":2.806},{"t":"11","x":2.783,"y":2.792},{"t":"12","x":2.86,"y":2.789},{"t":"13","x":2.617,"y":2.846},{"t":"13","x":2.966,"y":2.826},{"t":"13","x":2.966,"y":2.8},
{"t":"6","x":3.152,"y":2.628},{"t":"5","x":3.176,"y":2.616},{"t":"5","x":3.133,"y":2.558},{"t":"4","x":3.176,"y":2.558},{"t":"3","x":3.195,"y":2.515},{"t":"4","x":3.169,"y":2.482},{"t":"5","x":3.14,"y":2.459},
{"t":"6","x":2.8,"y":2.44},{"t":"7","x":2.82,"y":2.428},{"t":"7","x":2.84,"y":2.417},{"t":"8","x":2.865,"y":2.405},{"t":"9","x":2.892,"y":2.395},{"t":"10","x":2.911,"y":2.381},{"t":"11","x":2.968,"y":2.362},{"t":"12","x":3.007,"y":2.351}
]
},
"hconcat":[
{"vconcat":[
{"width":505,"height":1,"view":{"stroke":null},"data":{"values":[{"t":""}]},"mark":{"type":"text"},"encoding":{"text":{"field":"t"}}},
{"width":505,"height":507,
"title":{"text":"[H2O...Hg-Br]+, E-Emin (f=1000)","font":"Liberation Sans","fontSize":19.5,"fontWeight":"normal","color":"#222","anchor":"middle","dx":-4,"dy":19,"offset":13,"baseline":"alphabetic"},
"layer":[
{"data":{"name":"lo"},"mark":{"type":"line","interpolate":"catmull-rom","clip":true,"stroke":"#333","strokeWidth":1},
"encoding":{"x":{"field":"x","type":"quantitative","scale":{"domain":[2.0,3.2],"nice":false,"zero":false},"axis":{"values":[2.0,2.2,2.4,2.6,2.8,3.0,3.2],"format":".1f","title":"X Data","titlePadding":12}},
"y":{"field":"y","type":"quantitative","scale":{"domain":[2.35,2.85],"nice":false,"zero":false},"axis":{"values":[2.4,2.5,2.6,2.7,2.8],"format":".1f","title":"Y Data","titlePadding":12}},
"detail":{"field":"c"},"order":{"value":null}}},
{"data":{"name":"lc"},"mark":{"type":"line","interpolate":"cardinal-closed","clip":true,"stroke":"#333","strokeWidth":1},
"encoding":{"x":{"field":"x","type":"quantitative"},"y":{"field":"y","type":"quantitative"},"detail":{"field":"c"},"order":{"value":null}}},
{"data":{"name":"ll"},"mark":{"type":"text","font":"Liberation Sans","fontSize":13,"stroke":"white","strokeWidth":5,"strokeJoin":"round","fill":"white","clip":true},
"encoding":{"x":{"field":"x","type":"quantitative"},"y":{"field":"y","type":"quantitative"},"text":{"field":"t"}}},
{"data":{"name":"ll"},"mark":{"type":"text","font":"Liberation Sans","fontSize":13,"fill":"#222","clip":true},
"encoding":{"x":{"field":"x","type":"quantitative"},"y":{"field":"y","type":"quantitative"},"text":{"field":"t"}}},
{"data":{"values":[{"x":2.22,"y":2.556}]},"mark":{"type":"point","shape":"triangle-left","size":12,"filled":true,"color":"#555"},
"encoding":{"x":{"field":"x","type":"quantitative"},"y":{"field":"y","type":"quantitative"}}},
{"data":{"values":[{"t":")","x":3.297,"y":2.32}]},"mark":{"type":"text","font":"Liberation Sans","fontSize":23,"fill":"#000"},
"encoding":{"x":{"field":"x","type":"quantitative"},"y":{"field":"y","type":"quantitative"},"text":{"field":"t"}}}
]}
],"spacing":7,"bounds":"flush"},
{"width":498,"height":496,
"title":{"text":"[H2O...Hg-Br]+, E-Emin (f=1000), cpcm","font":"Liberation Sans","fontSize":19.5,"fontWeight":"normal","color":"#222","anchor":"end","frame":"group","dx":-8,"dy":19,"offset":13,"baseline":"alphabetic"},
"layer":[
{"data":{"name":"ro"},"mark":{"type":"line","interpolate":"catmull-rom","clip":true,"stroke":"#333","strokeWidth":1},
"encoding":{"x":{"field":"x","type":"quantitative","scale":{"domain":[2.0,3.2],"nice":false,"zero":false},"axis":{"values":[2.0,2.2,2.4,2.6,2.8,3.0,3.2],"format":".1f","title":"R1","titlePadding":20,"labelFontSize":12.5}},
"y":{"field":"y","type":"quantitative","scale":{"domain":[2.35,2.85],"nice":false,"zero":false},"axis":{"values":[2.4,2.5,2.6,2.7,2.8],"format":".1f","title":"R2","titlePadding":6,"labelFontSize":12.5}},
"detail":{"field":"c"},"order":{"value":null}}},
{"data":{"name":"rc"},"mark":{"type":"line","interpolate":"cardinal-closed","clip":true,"stroke":"#333","strokeWidth":1},
"encoding":{"x":{"field":"x","type":"quantitative"},"y":{"field":"y","type":"quantitative"},"detail":{"field":"c"},"order":{"value":null}}},
{"data":{"name":"rl"},"mark":{"type":"text","font":"Liberation Sans","fontSize":12.5,"stroke":"white","strokeWidth":5,"strokeJoin":"round","fill":"white","clip":true},
"encoding":{"x":{"field":"x","type":"quantitative"},"y":{"field":"y","type":"quantitative"},"text":{"field":"t"}}},
{"data":{"name":"rl"},"mark":{"type":"text","font":"Liberation Sans","fontSize":12.5,"fill":"#222","clip":true},
"encoding":{"x":{"field":"x","type":"quantitative"},"y":{"field":"y","type":"quantitative"},"text":{"field":"t"}}},
{"data":{"values":[{"t":"(b)","x":3.289,"y":2.305}]},"mark":{"type":"text","font":"Liberation Sans","fontSize":23,"fill":"#000"},
"encoding":{"x":{"field":"x","type":"quantitative"},"y":{"field":"y","type":"quantitative"},"text":{"field":"t"}}}
]}
],
"spacing":615,"bounds":"flush"
}
